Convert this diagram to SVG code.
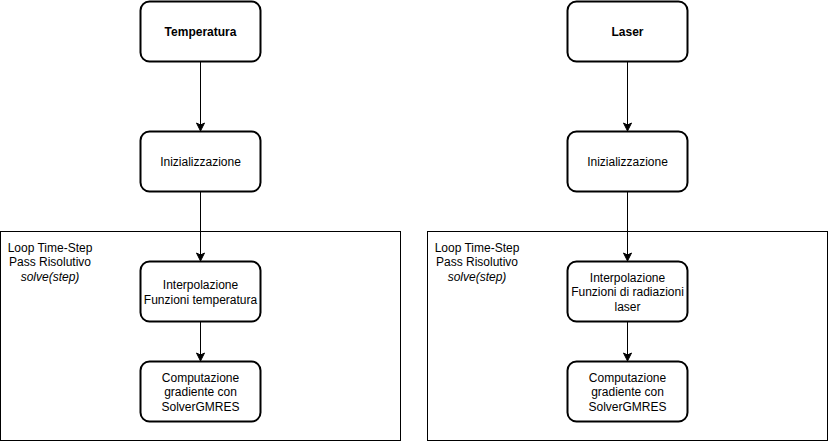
<svg xmlns="http://www.w3.org/2000/svg" width="828" height="442" viewBox="0 0 828 442">
<style>
.node rect{fill:#fff;stroke:#000;stroke-width:2}
.cont{fill:#fff;stroke:#000;stroke-width:1}
text{font-family:"Liberation Sans",Arial,Helvetica,sans-serif;font-size:12px;fill:#000;text-anchor:middle}
.b{font-weight:bold}
.conn line{stroke:#000;stroke-width:1}
.conn path{fill:#000;stroke:#000;stroke-width:1}
</style>
<rect width="828" height="442" fill="#fff"/>
<g id="loop-left">
<rect class="cont" x="0.5" y="231.5" width="400" height="209"/>
<text x="50" y="251.5">Loop Time-Step</text>
<text x="50" y="266">Pass Risolutivo</text>
<text x="50" y="280.5" font-style="italic">solve(step)</text>
</g>
<g id="loop-right">
<rect class="cont" x="427.5" y="231.5" width="400" height="209"/>
<text x="477" y="251.5">Loop Time-Step</text>
<text x="477" y="266">Pass Risolutivo</text>
<text x="477" y="280.5" font-style="italic">solve(step)</text>
</g>
<g class="conn" id="connectors">
<line x1="200.5" y1="62" x2="200.5" y2="125"/>
<path d="M200.5,131 L196.5,123 L200.5,125 L204.5,123 Z"/>
<line x1="200.5" y1="192" x2="200.5" y2="255"/>
<path d="M200.5,261 L196.5,253 L200.5,255 L204.5,253 Z"/>
<line x1="200.5" y1="322" x2="200.5" y2="355"/>
<path d="M200.5,361 L196.5,353 L200.5,355 L204.5,353 Z"/>
<line x1="627.5" y1="62" x2="627.5" y2="125"/>
<path d="M627.5,131 L623.5,123 L627.5,125 L631.5,123 Z"/>
<line x1="627.5" y1="192" x2="627.5" y2="255"/>
<path d="M627.5,261 L623.5,253 L627.5,255 L631.5,253 Z"/>
<line x1="627.5" y1="322" x2="627.5" y2="355"/>
<path d="M627.5,361 L623.5,353 L627.5,355 L631.5,353 Z"/>
</g>
<g class="node" id="temperatura">
<rect x="140.5" y="1.5" width="120" height="60" rx="9"/>
<text class="b" x="200.5" y="36">Temperatura</text>
</g>
<g class="node" id="init-left">
<rect x="140.5" y="131.5" width="120" height="60" rx="9"/>
<text x="200.5" y="166">Inizializzazione</text>
</g>
<g class="node" id="interp-left">
<rect x="140.5" y="261.5" width="120" height="60" rx="9"/>
<text x="200.5" y="289">Interpolazione</text>
<text x="200.5" y="303.5">Funzioni temperatura</text>
</g>
<g class="node" id="comp-left">
<rect x="140.5" y="361.5" width="120" height="60" rx="9"/>
<text x="200.5" y="381.5">Computazione</text>
<text x="200.5" y="396">gradiente con</text>
<text x="200.5" y="410.5">SolverGMRES</text>
</g>
<g class="node" id="laser">
<rect x="567.5" y="1.5" width="120" height="60" rx="9"/>
<text class="b" x="627.5" y="36">Laser</text>
</g>
<g class="node" id="init-right">
<rect x="567.5" y="131.5" width="120" height="60" rx="9"/>
<text x="627.5" y="166">Inizializzazione</text>
</g>
<g class="node" id="interp-right">
<rect x="567.5" y="261.5" width="120" height="60" rx="9"/>
<text x="627.5" y="281.5">Interpolazione</text>
<text x="627.5" y="296">Funzioni di radiazioni</text>
<text x="627.5" y="310.5">laser</text>
</g>
<g class="node" id="comp-right">
<rect x="567.5" y="361.5" width="120" height="60" rx="9"/>
<text x="627.5" y="381.5">Computazione</text>
<text x="627.5" y="396">gradiente con</text>
<text x="627.5" y="410.5">SolverGMRES</text>
</g>
</svg>
